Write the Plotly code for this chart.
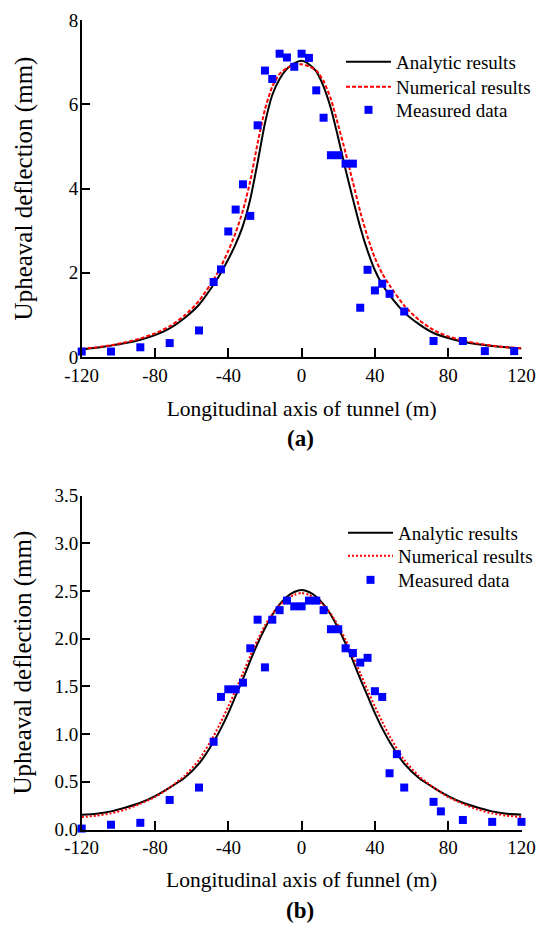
import plotly.graph_objects as go

# ---------------- data ----------------
x_meas_a = [-120, -104, -88, -72, -56, -48, -44, -40, -36, -32, -28, -24, -20, -16, -12, -8, -4, 0,
            4, 8, 12, 16, 20, 24, 28, 32, 36, 40, 44, 48, 56, 72, 88, 100, 116]
y_meas_a = [0.13, 0.13, 0.23, 0.33, 0.63, 1.78, 2.08, 2.98, 3.50, 4.10, 3.35, 5.50, 6.80, 6.60, 7.20, 7.11, 6.89, 7.20,
            7.10, 6.33, 5.68, 4.79, 4.79, 4.59, 4.59, 1.17, 2.07, 1.58, 1.74, 1.50, 1.08, 0.38, 0.38, 0.14, 0.14]

x_curve = [-120, -112, -104, -96, -88, -80, -72, -64, -56, -48, -44, -40, -36, -32, -28, -24, -20, -16, -12, -8, -4, 0,
           4, 8, 12, 16, 20, 24, 28, 32, 36, 40, 44, 48, 56, 64, 72, 80, 88, 96, 104, 112, 120]

y_analytic_a = [0.18, 0.22, 0.27, 0.33, 0.41, 0.52, 0.68, 0.92, 1.24, 1.72, 2.00, 2.32, 2.68, 3.12, 3.75, 4.62, 5.55, 6.22, 6.60, 6.84, 6.97, 7.03,
                6.95, 6.78, 6.42, 5.90, 5.20, 4.45, 3.75, 3.08, 2.52, 2.06, 1.72, 1.47, 1.06, 0.78, 0.57, 0.45, 0.36, 0.30, 0.26, 0.23, 0.20]
y_numer_a = [0.19, 0.23, 0.28, 0.35, 0.44, 0.56, 0.73, 0.98, 1.33, 1.84, 2.15, 2.52, 2.95, 3.48, 4.18, 5.08, 5.88, 6.42, 6.72, 6.86, 6.93, 6.95,
             6.90, 6.80, 6.55, 6.12, 5.50, 4.85, 4.15, 3.45, 2.85, 2.35, 1.98, 1.70, 1.22, 0.88, 0.64, 0.49, 0.39, 0.32, 0.27, 0.23, 0.21]

x_meas_b = [-120, -104, -88, -72, -56, -48, -44, -40, -36, -32, -28, -24, -20, -16, -12, -8, -4, 0,
            4, 8, 12, 16, 20, 24, 28, 32, 36, 40, 44, 48, 52, 56, 72, 76, 88, 104, 120]
y_meas_b = [0.01, 0.05, 0.07, 0.31, 0.44, 0.92, 1.39, 1.47, 1.47, 1.54, 1.90, 2.20, 1.70, 2.20, 2.30, 2.40, 2.34, 2.34,
            2.40, 2.40, 2.30, 2.10, 2.10, 1.90, 1.85, 1.75, 1.80, 1.45, 1.39, 0.59, 0.79, 0.44, 0.29, 0.19, 0.10, 0.08, 0.08]

y_analytic_b = [0.155, 0.165, 0.19, 0.23, 0.28, 0.35, 0.44, 0.54, 0.69, 0.92, 1.06, 1.22, 1.40, 1.58, 1.77, 1.95, 2.11, 2.25, 2.36, 2.44, 2.49, 2.51,
                2.49, 2.44, 2.36, 2.25, 2.11, 1.95, 1.77, 1.58, 1.40, 1.22, 1.06, 0.92, 0.69, 0.54, 0.44, 0.35, 0.28, 0.23, 0.19, 0.165, 0.155]
y_numer_b = [0.13, 0.145, 0.17, 0.21, 0.27, 0.34, 0.44, 0.56, 0.73, 0.98, 1.13, 1.29, 1.46, 1.64, 1.82, 1.99, 2.14, 2.26, 2.35, 2.42, 2.46, 2.48,
             2.46, 2.42, 2.35, 2.26, 2.14, 1.99, 1.82, 1.64, 1.46, 1.29, 1.13, 0.98, 0.73, 0.56, 0.44, 0.34, 0.27, 0.21, 0.17, 0.145, 0.13]

x_ticks = [-120, -80, -40, 0, 40, 80, 120]
x_ticktext = ["-120", "-80", "-40", "0", "40", "80", "120"]
y_ticks_a = [0, 2, 4, 6, 8]
y_ticks_b = [0, 0.5, 1.0, 1.5, 2.0, 2.5, 3.0, 3.5]
y_ticktext_b = ["0.0", "0.5", "1.0", "1.5", "2.0", "2.5", "3.0", "3.5"]

names = ["Analytic results", "Numerical results", "Measured data"]

# ---------------- layout helpers ----------------
W, H = 537, 927
FONT = "Times New Roman, Liberation Serif, serif"


def px(xp):
    return xp / W


def py(yp):
    return 1 - yp / H


fig = go.Figure()

# panel (a)
fig.add_trace(go.Scatter(x=x_curve, y=y_analytic_a, mode="lines", name=names[0],
                         line=dict(color="black", width=2, shape="spline", smoothing=0.6),
                         xaxis="x", yaxis="y", legend="legend"))
fig.add_trace(go.Scatter(x=x_curve, y=y_numer_a, mode="lines", name=names[1],
                         line=dict(color="#ff0000", width=2, dash="4px,2px", shape="spline", smoothing=0.6),
                         xaxis="x", yaxis="y", legend="legend2"))
fig.add_trace(go.Scatter(x=x_meas_a, y=y_meas_a, mode="markers", name=names[2],
                         marker=dict(symbol="square", size=8, color="#0000ff"), cliponaxis=False,
                         xaxis="x", yaxis="y", legend="legend3"))

# panel (b)
fig.add_trace(go.Scatter(x=x_curve, y=y_analytic_b, mode="lines", name=names[0],
                         line=dict(color="black", width=2, shape="spline", smoothing=0.6),
                         xaxis="x2", yaxis="y2", legend="legend4"))
fig.add_trace(go.Scatter(x=x_curve, y=y_numer_b, mode="lines", name=names[1],
                         line=dict(color="#ff0000", width=2, dash="2px,2px", shape="spline", smoothing=0.6),
                         xaxis="x2", yaxis="y2", legend="legend5"))
fig.add_trace(go.Scatter(x=x_meas_b, y=y_meas_b, mode="markers", name=names[2],
                         marker=dict(symbol="square", size=8, color="#0000ff"), cliponaxis=False,
                         xaxis="x2", yaxis="y2", legend="legend6"))

axis_common = dict(showline=True, linecolor="black", linewidth=1.5, ticks="inside", ticklen=9,
                   tickwidth=1.5, tickcolor="black", showgrid=False, zeroline=False,
                   tickfont=dict(family=FONT, size=19, color="black"))

xdom = [px(81.7), px(521.5)]
xtitle_font = dict(family=FONT, size=21.5, color="black")
ytitle_font = dict(family=FONT, size=25, color="black")

fig.update_layout(
    width=W, height=H,
    margin=dict(l=0, r=0, t=0, b=0, autoexpand=False),
    paper_bgcolor="white", plot_bgcolor="white",
    font=dict(family=FONT, color="black"),
    showlegend=True,
    xaxis=dict(domain=xdom, range=[-120, 120], tickvals=x_ticks, ticktext=x_ticktext, anchor="y",
               title=dict(text="Longitudinal axis of tunnel (m)", font=xtitle_font, standoff=16),
               **axis_common),
    yaxis=dict(domain=[py(357), py(20)], range=[0, 8], tickvals=y_ticks_a, anchor="x",
               ticklabelstandoff=-2,
               title=dict(text="Upheaval deflection (mm)", font=ytitle_font, standoff=29),
               **axis_common),
    xaxis2=dict(domain=xdom, range=[-120, 120], tickvals=x_ticks, ticktext=x_ticktext, anchor="y2",
                title=dict(text="Longitudinal axis of funnel (m)", font=xtitle_font, standoff=15),
                **axis_common),
    yaxis2=dict(domain=[py(829.5), py(495.7)], range=[0, 3.5], tickvals=y_ticks_b, ticktext=y_ticktext_b,
                anchor="x2", ticklabelstandoff=-2,
                title=dict(text="Upheaval deflection (mm)", font=ytitle_font, standoff=16),
                **axis_common),
    annotations=[
        dict(text="<b>(a)</b>", x=px(300), y=py(439), xref="paper", yref="paper", showarrow=False,
             font=dict(family=FONT, size=23, color="black"), xanchor="center", yanchor="middle"),
        dict(text="<b>(b)</b>", x=px(300), y=py(910), xref="paper", yref="paper", showarrow=False,
             font=dict(family=FONT, size=23, color="black"), xanchor="center", yanchor="middle"),
    ],
)

leg_font = dict(family=FONT, size=19, color="black")
leg_rows = [("legend", 341, 62), ("legend2", 341, 87), ("legend3", 341, 110),
            ("legend4", 343, 533), ("legend5", 343, 556), ("legend6", 343, 580)]
for key, lx, ly in leg_rows:
    fig.update_layout({key: dict(x=px(lx), y=py(ly), xanchor="left", yanchor="middle",
                                 bgcolor="rgba(0,0,0,0)", borderwidth=0, font=leg_font,
                                 itemwidth=45, visible=True)})

fig.write_html("out.html",
               config={"displayModeBar": False},
               post_script="document.body.style.margin='0';document.body.style.overflow='hidden';")
